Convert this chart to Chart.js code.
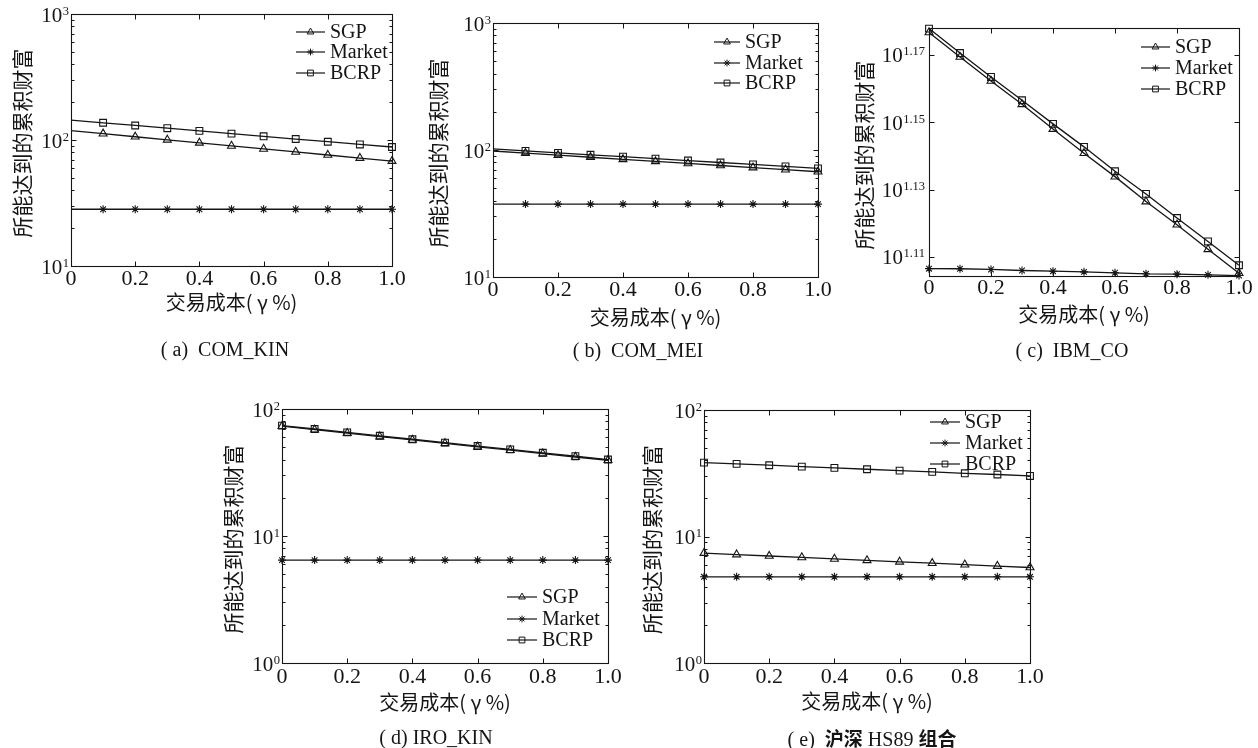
<!DOCTYPE html>
<html>
<head>
<meta charset="utf-8">
<script src="https://cdn.jsdelivr.net/npm/chart.js@4.4.1/dist/chart.umd.min.js"></script>
<style>
    body { margin: 0; background: #fff; }
    #page { position: relative; width: 1258px; height: 748px; overflow: hidden; background: #fff; }
    #page canvas { position: absolute; left: 0; top: 0; }
    .cap {
        position: absolute;
        font-family: "Liberation Serif", "Noto Sans CJK SC", serif;
        font-size: 20px;
        color: #151515;
        white-space: pre;
        transform: translate(-50%, -50%);
    }
    .cap .cjk { font-family: "Noto Sans CJK SC", sans-serif; font-weight: 700; font-size: 19px; }
</style>
</head>
<body>
<div id="page">
    <canvas id="chart-a" width="1258" height="748"></canvas>
    <canvas id="chart-b" width="1258" height="748"></canvas>
    <canvas id="chart-c" width="1258" height="748"></canvas>
    <canvas id="chart-d" width="1258" height="748"></canvas>
    <canvas id="chart-e" width="1258" height="748"></canvas>

    <div class="cap" style="left:225px;top:349px">( a)  COM_KIN</div>
    <div class="cap" style="left:638px;top:350px">( b)  COM_MEI</div>
    <div class="cap" style="left:1072px;top:350px">( c)  IBM_CO</div>
    <div class="cap" style="left:436px;top:737px">( d) IRO_KIN</div>
    <div class="cap" style="left:872px;top:737px">( e)  <span class="cjk">沪深</span> HS89 <span class="cjk">组合</span></div>
</div>
<script>
// transaction cost (gamma %), x values shared by every panel
const gamma = [0, 0.1, 0.2, 0.3, 0.4, 0.5, 0.6, 0.7, 0.8, 0.9, 1.0];
const seriesNames = ['SGP', 'Market', 'BCRP'];
const xTicks = [0, 0.2, 0.4, 0.6, 0.8, 1.0];
const xTickLabels = ['0', '0.2', '0.4', '0.6', '0.8', '1.0'];
const yTitle = '所能达到的累积财富';
const xTitle = '交易成本( γ %)';

// (a) COM_KIN
const sgpKin = [118.6, 112.2, 106.1, 100.4, 95.0, 89.8, 85.0, 80.4, 76.0, 71.9, 68.0];
const marketKin = [28.2, 28.2, 28.2, 28.2, 28.2, 28.2, 28.2, 28.2, 28.2, 28.2, 28.2];
const bcrpKin = [144.0, 137.0, 130.4, 124.1, 118.1, 112.4, 107.0, 101.8, 96.9, 92.2, 88.0];

// (b) COM_MEI
const sgpMei = [98.2, 94.6, 91.1, 87.7, 84.5, 81.4, 78.4, 75.5, 72.7, 70.0, 67.4];
const marketMei = [37.5, 37.5, 37.5, 37.5, 37.5, 37.5, 37.5, 37.5, 37.5, 37.5, 37.5];
const bcrpMei = [101.9, 98.4, 95.0, 91.7, 88.6, 85.5, 82.6, 79.7, 77.0, 74.3, 71.7];

// (c) IBM_CO
const sgpIbm = [15.02, 14.77, 14.53, 14.30, 14.06, 13.83, 13.61, 13.38, 13.17, 12.95, 12.74];
const marketIbm = [12.780, 12.779, 12.773, 12.764, 12.758, 12.752, 12.744, 12.735, 12.732, 12.726, 12.720];
const bcrpIbm = [15.06, 14.81, 14.57, 14.34, 14.11, 13.89, 13.66, 13.45, 13.23, 13.02, 12.81];

// (d) IRO_KIN
const sgpIro = [73.2, 68.8, 64.6, 60.7, 57.1, 53.7, 50.4, 47.4, 44.6, 41.9, 39.5];
const marketIro = [6.46, 6.46, 6.46, 6.46, 6.46, 6.46, 6.46, 6.46, 6.46, 6.46, 6.46];
const bcrpIro = [74.0, 69.6, 65.4, 61.5, 57.8, 54.4, 51.1, 48.1, 45.2, 42.5, 40.0];

// (e) 沪深 HS89
const sgpHs = [7.39, 7.20, 7.01, 6.83, 6.65, 6.48, 6.31, 6.15, 5.99, 5.84, 5.69];
const marketHs = [4.80, 4.80, 4.80, 4.80, 4.80, 4.80, 4.80, 4.80, 4.80, 4.80, 4.80];
const bcrpHs = [38.4, 37.5, 36.6, 35.7, 34.9, 34.0, 33.2, 32.4, 31.6, 30.9, 30.1];

// y tick values and the exponent shown as 10^exp
const ticksUpper = [10, 100, 1000];
const expsUpper = ['1', '2', '3'];
const ticksLower = [1, 10, 100];
const expsLower = ['0', '1', '2'];
const expsIbm = ['1.11', '1.13', '1.15', '1.17'];
const ticksIbm = expsIbm.map(e => Math.pow(10, parseFloat(e)));

const INK = '#151515';
const markerStyles = ['triangle', 'star', 'rect'];
const markerRadius = [4.6, 4, 4.8];

function drawMarker(ctx, style, radius, x, y) {
    ctx.fillStyle = 'rgba(0,0,0,0)';
    Chart.helpers.drawPoint(ctx, { pointStyle: style, radius: radius, rotation: 0, borderWidth: 1 }, x, y);
}

// axes box, ticks, labels, titles and legend, MATLAB style
const axesPlugin = {
    id: 'matlabAxes',
    afterDraw(chart) {
        const o = chart.options.plugins.matlabAxes;
        const { ctx, chartArea: a } = chart;
        const xs = chart.scales.x, ys = chart.scales.y;
        ctx.save();
        ctx.strokeStyle = INK;
        ctx.lineWidth = 1.1;

        // frame
        const L = Math.round(a.left) + 0.5, T = Math.round(a.top) + 0.5;
        const R = Math.round(a.right) + 0.5, B = Math.round(a.bottom) + 0.5;
        ctx.strokeRect(L, T, R - L, B - T);

        ctx.lineWidth = 1;
        ctx.beginPath();
        xTicks.forEach(v => {
            const px = Math.round(xs.getPixelForValue(v)) + 0.5;
            ctx.moveTo(px, B); ctx.lineTo(px, B - 5);
            ctx.moveTo(px, T); ctx.lineTo(px, T + 5);
        });
        o.yTicks.forEach(v => {
            const py = Math.round(ys.getPixelForValue(v)) + 0.5;
            ctx.moveTo(L, py); ctx.lineTo(L + 5, py);
            ctx.moveTo(R, py); ctx.lineTo(R - 5, py);
        });
        if (o.minor) {
            for (let d = o.min; d < o.max; d *= 10) {
                for (let k = 2; k <= 9; k++) {
                    const py = Math.round(ys.getPixelForValue(k * d)) + 0.5;
                    ctx.moveTo(L, py); ctx.lineTo(L + 3, py);
                    ctx.moveTo(R, py); ctx.lineTo(R - 3, py);
                }
            }
        }
        ctx.stroke();

        ctx.fillStyle = INK;
        // x tick labels
        ctx.font = '22px "Liberation Serif", serif';
        ctx.textAlign = 'center';
        ctx.textBaseline = 'middle';
        xTicks.forEach((v, i) => {
            ctx.fillText(xTickLabels[i], xs.getPixelForValue(v), a.bottom + o.xLabelGap);
        });

        // y tick labels: 10 with superscript exponent
        ctx.textBaseline = 'alphabetic';
        ctx.textAlign = 'left';
        o.yTicks.forEach((v, i) => {
            const py = ys.getPixelForValue(v);
            ctx.font = '12.5px "Liberation Serif", serif';
            const ew = ctx.measureText(o.yExps[i]).width;
            const ex = a.left - o.yLabelGap - ew;
            ctx.fillText(o.yExps[i], ex, py + 0.5);
            ctx.font = '21px "Liberation Serif", serif';
            const bw = ctx.measureText('10').width;
            ctx.fillText('10', ex - bw - 0.5, py + 7.5);
        });

        // axis titles
        ctx.font = '20px "Noto Sans CJK SC", sans-serif';
        ctx.textAlign = 'center';
        ctx.textBaseline = 'middle';
        ctx.fillText(xTitle, (a.left + a.right) / 2, o.xTitleY);
        ctx.save();
        ctx.translate(o.yTitleX, (a.top + a.bottom) / 2 + 3);
        ctx.rotate(-Math.PI / 2);
        ctx.font = '21px "Noto Sans CJK SC", sans-serif';
        ctx.fillText(yTitle, 0, 0);
        ctx.restore();

        // legend
        const lg = o.legend;
        ctx.font = '20px "Liberation Serif", serif';
        ctx.textAlign = 'left';
        ctx.textBaseline = 'middle';
        seriesNames.forEach((name, i) => {
            const ry = lg.rows[i];
            ctx.strokeStyle = INK;
            ctx.lineWidth = 1.2;
            ctx.beginPath();
            ctx.moveTo(lg.x0, ry); ctx.lineTo(lg.x1, ry);
            ctx.stroke();
            ctx.lineWidth = 1;
            drawMarker(ctx, markerStyles[i], markerRadius[i] * 0.85, (lg.x0 + lg.x1) / 2, ry);
            ctx.fillStyle = INK;
            ctx.fillText(name, lg.tx, ry + 1);
        });
        ctx.restore();
    }
};

function makeDataset(name, i, values, hideFirst) {
    return {
        label: name,
        data: gamma.map((g, k) => ({ x: g, y: values[k] })),
        borderColor: INK,
        borderWidth: 1.3,
        pointStyle: markerStyles[i],
        pointRadius: gamma.map((g, k) => (hideFirst && k === 0 ? 0 : markerRadius[i])),
        pointBorderWidth: 1.1,
        pointBorderColor: INK,
        pointBackgroundColor: 'rgba(0,0,0,0)',
        tension: 0,
        clip: false
    };
}

function makeWealthChart(id, series, cfg) {
    const ctx = document.getElementById(id).getContext('2d');
    return new Chart(ctx, {
        type: 'line',
        data: {
            datasets: series.map((vals, i) => makeDataset(seriesNames[i], i, vals, cfg.hideFirst))
        },
        options: {
            responsive: false,
            animation: false,
            layout: {
                padding: { left: cfg.area[0], top: cfg.area[1], right: 1258 - cfg.area[2], bottom: 748 - cfg.area[3] }
            },
            scales: {
                x: { type: 'linear', min: 0, max: 1, display: false },
                y: { type: 'logarithmic', min: cfg.min, max: cfg.max, display: false }
            },
            plugins: {
                legend: { display: false },
                tooltip: { enabled: false },
                matlabAxes: cfg
            }
        },
        plugins: [axesPlugin]
    });
}

makeWealthChart('chart-a', [sgpKin, marketKin, bcrpKin], {
    area: [71, 14, 392, 266], min: 10, max: 1000,
    yTicks: ticksUpper, yExps: expsUpper, minor: true, hideFirst: true,
    xLabelGap: 13, yLabelGap: 2, xTitleY: 302, yTitleX: 22,
    legend: { x0: 296, x1: 325, tx: 330, rows: [32, 52, 73] }
});

makeWealthChart('chart-b', [sgpMei, marketMei, bcrpMei], {
    area: [493, 23, 818, 277], min: 10, max: 1000,
    yTicks: ticksUpper, yExps: expsUpper, minor: true, hideFirst: true,
    xLabelGap: 13, yLabelGap: 2, xTitleY: 317, yTitleX: 438,
    legend: { x0: 714, x1: 740, tx: 745, rows: [42, 63, 83] }
});

makeWealthChart('chart-c', [sgpIbm, marketIbm, bcrpIbm], {
    area: [929, 28, 1239, 276], min: 12.716, max: 15.066,
    yTicks: ticksIbm, yExps: expsIbm, minor: false, hideFirst: false,
    xLabelGap: 12, yLabelGap: 4, xTitleY: 314, yTitleX: 864,
    legend: { x0: 1141, x1: 1170, tx: 1175, rows: [47, 68, 89] }
});

makeWealthChart('chart-d', [sgpIro, marketIro, bcrpIro], {
    area: [282, 409, 608, 663], min: 1, max: 100,
    yTicks: ticksLower, yExps: expsLower, minor: true, hideFirst: false,
    xLabelGap: 14, yLabelGap: 2, xTitleY: 702, yTitleX: 233,
    legend: { x0: 507, x1: 537, tx: 542, rows: [597, 619, 640] }
});

makeWealthChart('chart-e', [sgpHs, marketHs, bcrpHs], {
    area: [704, 410, 1030, 663], min: 1, max: 100,
    yTicks: ticksLower, yExps: expsLower, minor: true, hideFirst: false,
    xLabelGap: 14, yLabelGap: 2, xTitleY: 701, yTitleX: 652,
    legend: { x0: 930, x1: 960, tx: 965, rows: [422, 443, 464] }
});
</script>
</body>
</html>
